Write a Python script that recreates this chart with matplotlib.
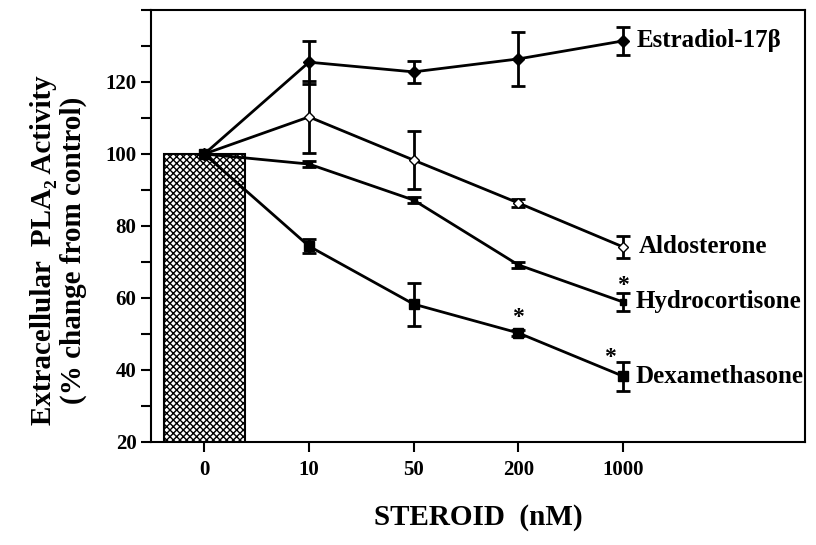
import matplotlib

matplotlib.use("Agg")
import matplotlib.pyplot as plt
from matplotlib.ticker import MultipleLocator

plt.rcParams["font.family"] = ["Liberation Serif", "DejaVu Serif"]
plt.rcParams["font.weight"] = "bold"
plt.rcParams["hatch.linewidth"] = 1.0

doses = ["0", "10", "50", "200", "1000"]
control = 100

estradiol = [100, 125.5, 122.8, 126.4, 131.4]
estradiol_err = [0, 6, 3, 7.5, 4]
aldosterone = [100, 110.3, 98.3, 86.4, 74.2]
aldosterone_err = [0, 10, 8, 1, 3]
hydrocortisone = [100, 97.2, 87.2, 69.2, 58.9]
hydrocortisone_err = [0, 0.8, 0.8, 0.8, 2.5]
dexamethasone = [100, 74.4, 58.3, 50.3, 38.3]
dexamethasone_err = [0, 2, 6, 0.8, 4]

x = list(range(len(doses)))

fig = plt.figure(figsize=(8.16, 5.45), dpi=100)
ax = fig.add_axes([0.185, 0.189, 0.8015, 0.7927])

ax.bar(0, control, width=0.78, bottom=0, color="white", edgecolor="black",
       hatch="xxxxx", linewidth=1.5, zorder=1)

series = [
    (estradiol, estradiol_err, "D", "black", 6),
    (aldosterone, aldosterone_err, "D", "white", 5),
    (hydrocortisone, hydrocortisone_err, "s", "black", 5),
    (dexamethasone, dexamethasone_err, "s", "black", 6.5),
]
for y, err, mk, fc, ms in series:
    ax.errorbar(x, y, yerr=err, color="black", marker=mk, markerfacecolor=fc,
                markeredgecolor="black", markersize=ms, linewidth=2,
                elinewidth=2, capsize=5, capthick=2, zorder=3)

# series names at the right end of each line
lab_kw = dict(fontsize=18, fontweight="bold", va="center", ha="left")
ax.text(4.13, 131.4, "Estradiol-17β", **lab_kw)
ax.text(4.15, 74.2, "Aldosterone", **lab_kw)
ax.text(4.12, 58.9, "Hydrocortisone", **lab_kw)
ax.text(4.12, 38.3, "Dexamethasone", **lab_kw)

star_kw = dict(fontsize=17, fontweight="bold", ha="center", va="center")
ax.text(4.0, 63.5, "*", **star_kw)
ax.text(3.0, 54.5, "*", **star_kw)
ax.text(3.88, 43.5, "*", **star_kw)

ax.set_xlim(-0.51, 5.74)
ax.set_ylim(20, 140)
ax.set_xticks(x)
ax.set_xticklabels(doses)
ax.set_yticks([20, 40, 60, 80, 100, 120])
ax.yaxis.set_minor_locator(MultipleLocator(10))
ax.tick_params(axis="both", labelsize=15, width=1.5, length=7, direction="out")
ax.tick_params(axis="y", which="minor", width=1.5, length=7, direction="out")
ax.tick_params(axis="x", pad=6)
for s in ax.spines.values():
    s.set_linewidth(1.5)

ax.set_xlabel("STEROID  (nM)", fontsize=21, fontweight="bold", labelpad=17)
ax.set_ylabel("Extracellular  PLA₂ Activity\n(% change from control)",
              fontsize=21, fontweight="bold", linespacing=1.15, va="center")
ax.yaxis.set_label_coords(-0.141, 0.444)

fig.savefig("out.png", dpi=100)
